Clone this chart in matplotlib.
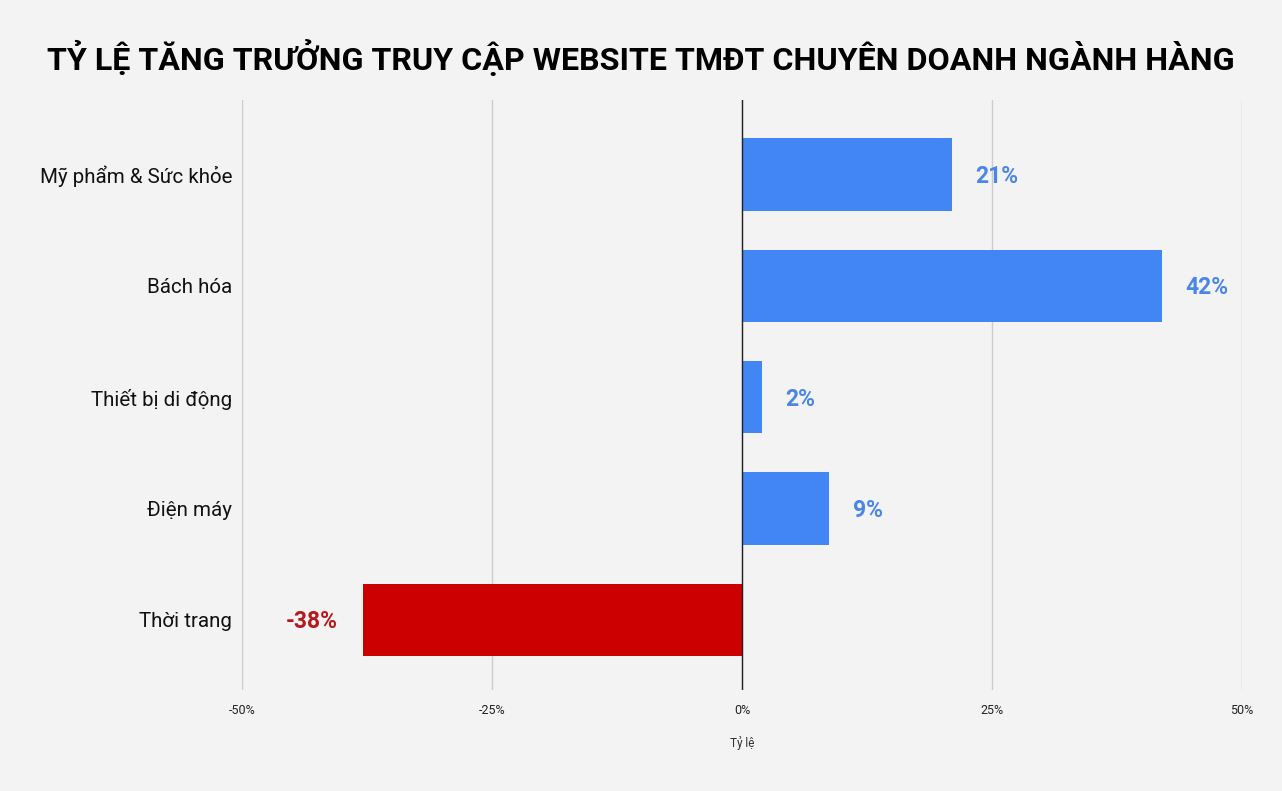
import matplotlib
matplotlib.use("Agg")
import matplotlib.pyplot as plt
from matplotlib.ticker import FuncFormatter

categories = ["Mỹ phẩm & Sức khỏe", "Bách hóa", "Thiết bị di động", "Điện máy", "Thời trang"]
values = [21, 42, 2, 8.7, -37.9]
labels = ["21%", "42%", "2%", "9%", "-38%"]
xticks = [-50, -25, 0, 25, 50]

plt.rcParams['font.family'] = ['Roboto', 'DejaVu Sans']

bg = "#f3f3f3"
fig = plt.figure(figsize=(12.82, 7.91), dpi=100, facecolor=bg)
ax = fig.add_axes([242/1282, 1-690/791, 1000/1282, 590/791], facecolor=bg)

ypos = list(range(len(categories)))
colors = ["#4285f4" if v >= 0 else "#cc0000" for v in values]
ax.barh(ypos, values, height=0.65, color=colors, zorder=3)

for y, v, lab in zip(ypos, values, labels):
    if v >= 0:
        ax.annotate(lab, (v, y), xytext=(17, -1.5), textcoords="offset points",
                    ha="left", va="center", fontsize=16.5, fontweight="bold",
                    color="#4a86e8", zorder=4)
    else:
        ax.annotate(lab, (v, y), xytext=(-18, -1.5), textcoords="offset points",
                    ha="right", va="center", fontsize=16.5, fontweight="bold",
                    color="#b7181c", zorder=4)

ax.set_xlim(-50, 50)
ax.set_ylim(4.63, -0.67)
ax.set_xticks(xticks)
ax.xaxis.set_major_formatter(FuncFormatter(lambda x, p: f"{int(x)}%"))
ax.set_yticks(ypos)
ax.set_yticklabels(categories)
ax.tick_params(axis="y", length=0, pad=7, labelsize=14.8, labelcolor="#111111")
ax.tick_params(axis="x", length=0, pad=10, labelsize=9, labelcolor="#222222")

ax.grid(axis="x", color="#cccccc", linewidth=1, zorder=0)
ax.axvline(0, color="#222222", linewidth=1, zorder=5)
for s in ax.spines.values():
    s.set_visible(False)

ax.set_xlabel("Tỷ lệ", fontsize=8.5, color="#333333", labelpad=14)

fig.text(641/1282, 1-57/791, "TỶ LỆ TĂNG TRƯỞNG TRUY CẬP WEBSITE TMĐT CHUYÊN DOANH NGÀNH HÀNG",
         ha="center", va="center", fontsize=23.2, fontweight="bold", color="#000000")

fig.savefig("out.png", dpi=100, facecolor=bg)
